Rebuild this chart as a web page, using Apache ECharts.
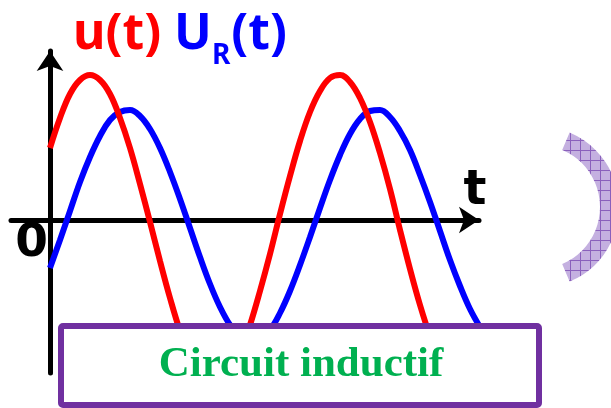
<!DOCTYPE html>
<html>
<head>
<meta charset="utf-8">
<title>Circuit inductif</title>
<script src="https://cdn.jsdelivr.net/npm/echarts@6/dist/echarts.min.js"></script>
<style>
    html, body { margin: 0; padding: 0; background: #fff; }
    #chart { width: 611px; height: 408px; }
</style>
</head>
<body>
<div id="chart"></div>
<script>
// temps et tensions (unités du dessin)
const temps = [0, 10, 20, 30, 40, 50, 60, 70, 80, 90, 100, 110, 120, 130, 140, 150, 160, 170, 180, 190,
    200, 210, 220, 230, 240, 250, 260, 270, 280, 290, 300, 310, 320, 330, 340, 350, 360, 370, 380, 390,
    400, 410, 420, 430];
const tensionU = [72, 102, 126, 140, 145, 140, 126, 102, 72, 36, -2, -41, -78, -111, -137, -155, -164, -163, -152, -133,
    -105, -71, -34, 6, 44, 79, 108, 129, 142, 145, 138, 122, 98, 67, 31, -10, -49, -85, -116, -141,
    -158, -165, -162, -150];
const tensionUR = [-48, -20, 9, 38, 63, 84, 100, 108, 110, 104, 91, 72, 48, 21, -8, -37, -64, -87, -105, -117,
    -122, -119, -110, -93, -71, -45, -17, 12, 40, 65, 86, 101, 109, 110, 103, 89, 70, 45, 18, -11,
    -40, -66, -89, -107];
const origine = ['0'];

function hachures() {
    const c = document.createElement('canvas');
    c.width = 10;
    c.height = 10;
    const ctx = c.getContext('2d');
    ctx.fillStyle = '#c4b0e0';
    ctx.fillRect(0, 0, 10, 10);
    ctx.fillStyle = '#8a60bc';
    ctx.fillRect(0, 0, 10, 1);
    ctx.fillRect(0, 0, 1, 10);
    return c;
}

const chart = echarts.init(document.getElementById('chart'));
const axisLine = {
    onZero: true,
    symbol: ['none', 'arrow'],
    symbolSize: [20, 20],
    lineStyle: { color: '#000', width: 5 }
};

chart.setOption({
    animation: false,
    title: {
        left: 68,
        top: 0,
        text: '{r|u(t) }{b|U}{s|R}{b|(t)}',
        textStyle: {
            rich: {
                r: { color: '#ff0000', fontFamily: 'Noto Sans', fontWeight: 'bold', fontSize: 50, lineHeight: 60 },
                b: { color: '#0000ff', fontFamily: 'Noto Sans', fontWeight: 'bold', fontSize: 50, lineHeight: 60 },
                s: { color: '#0000ff', fontFamily: 'Noto Sans', fontWeight: 'bold', fontSize: 28, lineHeight: 60, padding: [42, 1, 0, 0] }
            }
        }
    },
    grid: { left: 11, right: 132, top: 51, bottom: 35, outerBoundsMode: 'none' },
    xAxis: {
        type: 'value',
        min: -39,
        max: 429,
        z: 3,
        axisLine: axisLine,
        axisTick: { show: false },
        axisLabel: { show: false },
        splitLine: { show: false },
        name: 't',
        nameLocation: 'end',
        nameGap: -4,
        nameTextStyle: {
            fontFamily: 'DejaVu Sans', fontWeight: 'bold', fontSize: 48, color: '#000',
            align: 'center', verticalAlign: 'bottom', padding: [0, 0, 4, 0]
        }
    },
    yAxis: {
        type: 'value',
        min: -153,
        max: 169,
        z: 3,
        axisLine: axisLine,
        axisTick: { show: false },
        splitLine: { show: false },
        axisLabel: {
            customValues: [0],
            formatter: () => '{o|' + origine[0] + '}',
            margin: -37,
            rich: {
                o: { fontFamily: 'DejaVu Sans', fontWeight: 'bold', fontSize: 47, color: '#000', padding: [48, 0, 0, 0] }
            }
        }
    },
    series: [
        {
            name: 'U_R(t)',
            type: 'line',
            smooth: 0.4,
            showSymbol: false,
            lineStyle: { color: '#0000ff', width: 6 },
            data: temps.map((t, i) => [t, tensionUR[i]])
        },
        {
            name: 'u(t)',
            type: 'line',
            smooth: 0.4,
            showSymbol: false,
            lineStyle: { color: '#ff0000', width: 6 },
            data: temps.map((t, i) => [t, tensionU[i]])
        }
    ],
    graphic: [
        {
            type: 'sector',
            z: 1,
            shape: { cx: 538, cy: 207, r0: 62, r: 81, startAngle: -1.17, endAngle: 1.17 },
            style: { fill: { image: hachures(), repeat: 'repeat' } }
        },
        {
            type: 'rect',
            z: 100,
            shape: { x: 61, y: 326, width: 478, height: 79, r: 2 },
            style: { fill: '#fff', stroke: '#7030a0', lineWidth: 6 }
        },
        {
            type: 'text',
            z: 101,
            x: 301,
            y: 364.5,
            style: {
                text: 'Circuit inductif',
                font: 'bold 43px "Liberation Serif"',
                fill: '#00b050',
                align: 'center',
                verticalAlign: 'middle'
            }
        }
    ]
});
</script>
</body>
</html>
